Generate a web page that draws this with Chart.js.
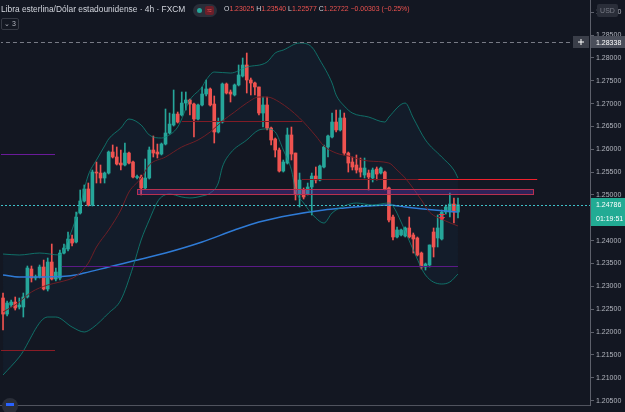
<!DOCTYPE html>
<html lang="es">
<head>
<meta charset="UTF-8">
<title>GBPUSD 4h</title>
<script src="https://cdn.jsdelivr.net/npm/chart.js"></script>
<style>
  body { margin: 0; background: #131722; }
  #wrap { position: relative; width: 625px; height: 412px; overflow: hidden; background: #131722; }
  #chart { position: absolute; left: 0; top: 0; }
  .t { position: absolute; white-space: nowrap; font-family: "Liberation Sans", Arial, sans-serif; color: #d1d4dc; }
  #title { left: 1px; top: 4px; font-size: 8.4px; }
  #ohlc { left: 224px; top: 5px; font-size: 6.9px; }
  .red { color: #ef5350; }
  #pill { position: absolute; left: 193px; top: 4px; width: 24px; height: 13px; border-radius: 7px; background: #2a2e39; }
  #dot { position: absolute; left: 4px; top: 4px; width: 5px; height: 5px; border-radius: 50%; background: #26a69a; }
  #wave { position: absolute; left: 12px; top: 2px; width: 9px; height: 9px; border-radius: 2px; background: #6b1f2a; color: #ef5350; font: 8px Arial, sans-serif; line-height: 9px; text-align: center; }
  #fold { position: absolute; left: 1px; top: 18px; width: 16px; height: 10px; border: 1px solid #363a45; border-radius: 2px; font: 7px Arial, sans-serif; color: #b2b5be; line-height: 10px; text-align: center; }
  #usd { position: absolute; left: 597px; top: 4px; width: 21px; height: 13px; border-radius: 2px; background: #2a2e39; font: 7px Arial, sans-serif; color: #787b86; line-height: 13px; text-align: center; }
</style>
</head>
<body>
<div id="wrap">
  <canvas id="chart" width="625" height="412"></canvas>
  <div class="t" id="title">Libra esterlina/Dólar estadounidense · 4h · FXCM</div>
  <div id="pill"><div id="dot"></div><div id="wave">≈</div></div>
  <div class="t" id="ohlc">O<span class="red">1.23025</span> H<span class="red">1.23540</span> L<span class="red">1.22577</span> C<span class="red">1.22722</span> <span class="red">−0.00303 (−0.25%)</span></div>
  <div id="fold">⌄ 3</div>
  <div id="usd">USD</div>
</div>
<script>
// GBPUSD 4h candles (oldest first)
const open = [1.22746,1.22395,1.22593,1.22658,1.22549,1.22549,1.22768,1.23380,1.23183,1.23205,
  1.23424,1.22943,1.23533,1.23161,1.23183,1.23730,1.23818,1.24037,1.23971,1.24605,
  1.24868,1.25131,1.24781,1.25502,1.25480,1.25371,1.25480,1.25940,1.25831,1.25699,
  1.25656,1.25918,1.25721,1.25382,1.25393,1.25153,1.25371,1.25984,1.25940,1.25896,
  1.26115,1.26356,1.26531,1.26771,1.26750,1.27012,1.27078,1.26990,1.26662,1.26969,
  1.27209,1.27319,1.26990,1.26378,1.26596,1.27428,1.27253,1.27188,1.27407,1.27603,
  1.27844,1.27516,1.27450,1.27363,1.26793,1.26969,1.26465,1.26225,1.25984,1.25524,
  1.25699,1.26313,1.25918,1.25021,1.25109,1.25021,1.25175,1.25415,1.25328,1.25612,
  1.26050,1.26269,1.26596,1.26422,1.26684,1.25918,1.25721,1.25656,1.25590,1.25437,
  1.25480,1.25371,1.25568,1.25480,1.25502,1.25153,1.24518,1.24081,1.24125,1.24103,
  1.24278,1.24125,1.24059,1.23730,1.23424,1.23468,1.24190,1.24059,1.24037,1.24627,
  1.24627,1.24802,1.24627];
const high = [1.22855,1.22680,1.22702,1.22768,1.22746,1.22855,1.23446,1.23446,1.23249,1.23468,
  1.23577,1.23621,1.23927,1.23402,1.23796,1.23927,1.24190,1.24125,1.24627,1.25109,
  1.25219,1.25262,1.25546,1.25721,1.25656,1.25502,1.25962,1.26094,1.26050,1.25984,
  1.26137,1.25940,1.25743,1.25437,1.25437,1.25787,1.26050,1.26291,1.26115,1.26137,
  1.26881,1.26793,1.27297,1.26815,1.27253,1.27253,1.27100,1.27012,1.26990,1.27363,
  1.27516,1.27341,1.27166,1.26684,1.27450,1.27450,1.27297,1.27428,1.27844,1.27997,
  1.28106,1.27559,1.27472,1.27363,1.27144,1.27144,1.26487,1.26247,1.26028,1.25765,
  1.26465,1.26487,1.25918,1.25480,1.25153,1.25262,1.25480,1.25612,1.25656,1.26094,
  1.26313,1.26793,1.26859,1.26859,1.26793,1.25940,1.25831,1.25875,1.25809,1.25809,
  1.25546,1.25590,1.25612,1.25612,1.25524,1.25175,1.24562,1.24300,1.24256,1.24300,
  1.24518,1.24168,1.24081,1.23752,1.23511,1.23906,1.24278,1.24562,1.24671,1.24781,
  1.25043,1.24934,1.24934];
const low = [1.22046,1.22352,1.22549,1.22483,1.22505,1.22330,1.22746,1.23096,1.23140,1.23183,
  1.22921,1.22899,1.23140,1.23118,1.23140,1.23708,1.23774,1.23884,1.23949,1.24583,
  1.24846,1.24759,1.24759,1.25262,1.25262,1.25262,1.25458,1.25809,1.25656,1.25546,
  1.25634,1.25677,1.25371,1.25349,1.25000,1.25131,1.25349,1.25831,1.25809,1.25875,
  1.26094,1.26334,1.26509,1.26574,1.26728,1.26859,1.26750,1.26269,1.26640,1.26947,
  1.27166,1.26947,1.26137,1.26356,1.26574,1.27209,1.27034,1.27166,1.27385,1.27581,
  1.27231,1.27188,1.27188,1.26750,1.26487,1.26422,1.26094,1.25831,1.25502,1.25502,
  1.25677,1.25765,1.24890,1.24737,1.24912,1.25000,1.24562,1.25262,1.25306,1.25590,
  1.25831,1.26247,1.26378,1.26400,1.25875,1.25502,1.25546,1.25480,1.25393,1.25371,
  1.25109,1.25284,1.25328,1.25458,1.25109,1.24408,1.24015,1.24059,1.24103,1.24081,
  1.24059,1.23730,1.23665,1.23380,1.23358,1.23424,1.23643,1.23862,1.24015,1.24583,
  1.24518,1.24386,1.24496];
const close = [1.22395,1.22636,1.22658,1.22527,1.22593,1.22768,1.23402,1.23183,1.23205,1.23424,
  1.22943,1.23533,1.23161,1.23314,1.23730,1.23840,1.24037,1.23949,1.24518,1.24868,
  1.25131,1.24781,1.25502,1.25480,1.25371,1.25480,1.25940,1.25831,1.25677,1.25656,
  1.25918,1.25699,1.25393,1.25404,1.25153,1.25371,1.25984,1.25918,1.25896,1.26115,
  1.26356,1.26552,1.26771,1.26596,1.27012,1.27078,1.26990,1.26662,1.26969,1.27209,
  1.27319,1.26969,1.26378,1.26596,1.27428,1.27231,1.27209,1.27407,1.27625,1.27844,
  1.27516,1.27450,1.27363,1.26793,1.26969,1.26465,1.26203,1.25984,1.25524,1.25721,
  1.26313,1.25896,1.25021,1.25328,1.24956,1.25175,1.25415,1.25328,1.25634,1.26050,
  1.26291,1.26596,1.26422,1.26684,1.25918,1.25699,1.25612,1.25546,1.25502,1.25590,
  1.25393,1.25546,1.25458,1.25590,1.25131,1.24452,1.24081,1.24234,1.24234,1.24278,
  1.24081,1.24037,1.23687,1.23424,1.23489,1.23906,1.23862,1.24278,1.24627,1.24737,
  1.24802,1.24627,1.24786];

// indicator lines as [bar index, price]
const bbUpper = [[0,1.23708],[4,1.23687],[9,1.23730],[14,1.23687],[16,1.24015],[19,1.24781],[21,1.25437],
  [23,1.25765],[25,1.26072],[26,1.26225],[29,1.26465],[31,1.26662],[34,1.26531],[36,1.26313],[39,1.26247],
  [40,1.26269],[43,1.26487],[46,1.27078],[49,1.27363],[50,1.27516],[52,1.27690],[56,1.27668],[60,1.27800],
  [65,1.27909],[67,1.28106],[69,1.28172],[73,1.28325],[76,1.28238],[78,1.27953],[81,1.27450],[82,1.27188],
  [84,1.26947],[86,1.26793],[90,1.26706],[94,1.26596],[95,1.26706],[99,1.27012],[101,1.26684],[104,1.26203],
  [108,1.25831],[111,1.25546],[112,1.25371]];
const bbLower = [[0,1.21061],[4,1.21455],[11,1.22330],[13,1.22330],[17,1.22111],[20,1.22002],[22,1.22089],
  [26,1.22417],[29,1.22702],[32,1.23424],[34,1.24015],[36,1.24452],[38,1.24846],[39,1.24956],[41,1.25021],
  [44,1.24956],[46,1.24934],[49,1.24978],[51,1.25043],[53,1.25262],[54,1.25612],[56,1.25918],[60,1.26203],
  [63,1.26422],[65,1.26444],[67,1.26378],[69,1.25984],[71,1.25546],[72,1.25109],[74,1.24824],[77,1.24496],
  [79,1.24386],[81,1.24605],[84,1.24759],[87,1.24824],[91,1.24781],[95,1.24824],[96,1.24759],[98,1.24408],
  [101,1.23796],[104,1.23249],[108,1.23052],[110,1.23096],[112,1.23270]];
const bbBasis = [[0,1.22439],[4,1.22658],[7,1.22877],[11,1.23031],[14,1.23096],[18,1.23227],[21,1.23511],
  [23,1.23862],[26,1.24234],[29,1.24671],[31,1.25065],[34,1.25371],[36,1.25656],[40,1.25831],[44,1.26050],
  [48,1.26203],[51,1.26378],[54,1.26618],[57,1.26815],[60,1.27012],[63,1.27144],[65,1.27144],[68,1.27034],
  [73,1.26684],[77,1.26291],[79,1.26072],[82,1.25918],[85,1.25853],[90,1.25743],[95,1.25699],[97,1.25546],
  [99,1.25371],[103,1.24890],[105,1.24627],[109,1.24430],[112,1.24322]];
const ma200 = [[0,1.23249],[4,1.23205],[7,1.23205],[16,1.23227],[20,1.23292],[26,1.23424],[32,1.23555],
  [40,1.23730],[49,1.23971],[57,1.24234],[63,1.24408],[71,1.24562],[79,1.24671],[84,1.24715],[90,1.24759],
  [95,1.24781],[99,1.24737],[109,1.24649],[112,1.24627]];

// drawn levels: price, first bar, last bar
const levelPrice = [1.28338, 1.25896, 1.21608, 1.23446, 1.26618, 1.25349, 1.25349];
const levelFrom  = [-1, -1, -1, 14.5, 44, 73.6, 102.2];
const levelTo    = [139.8, 12.8, 12.8, 112, 73.6, 102.2, 131.5];
const zoneTop = 1.25131, zoneBottom = 1.25021, zoneFrom = 33, zoneTo = 130.5;
const lastPrice = 1.24786, countdown = '01:19:51';
const markerBar = 108, markerPrice = 1.24496;

const levelStyle = [
  { color: '#787b86', dash: [4, 3] },
  { color: '#6a1b9a', dash: [] },
  { color: '#8a1c26', dash: [] },
  { color: '#5b1a86', dash: [] },
  { color: '#801c26', dash: [] },
  { color: '#801c26', dash: [] },
  { color: '#f0202c', dash: [] }
];

const SLOTS = 145;
const slotLabels = Array.from({ length: SLOTS }, (_, i) => i);
const upCol = '#26a69a', dnCol = '#ef5350';
const candleCol = close.map((c, i) => c >= open[i] ? upCol : dnCol);
const pts = arr => arr.map(p => ({ x: p[0], y: p[1] }));
const axisFont = '7px "Liberation Sans", Arial, sans-serif';

const drawings = {
  id: 'drawings',
  afterDatasetsDraw(chart) {
    const { ctx, chartArea: a, scales: { x, y } } = chart;
    ctx.save();
    ctx.beginPath();
    ctx.rect(a.left, a.top, a.right - a.left, a.bottom - a.top);
    ctx.clip();
    ctx.lineWidth = 1;

    // zone rectangle
    const x0 = Math.round(x.getPixelForValue(zoneFrom)), x1 = Math.round(x.getPixelForValue(zoneTo));
    const y0 = Math.round(y.getPixelForValue(zoneTop)), y1 = Math.round(y.getPixelForValue(zoneBottom));
    ctx.fillStyle = 'rgba(94, 53, 177, 0.38)';
    ctx.fillRect(x0, y0, x1 - x0, y1 - y0);
    ctx.strokeStyle = '#b8304f';
    ctx.strokeRect(x0 + 0.5, y0 + 0.5, x1 - x0, y1 - y0);

    levelPrice.forEach((p, i) => {
      const yy = Math.round(y.getPixelForValue(p)) + 0.5;
      ctx.strokeStyle = levelStyle[i].color;
      ctx.setLineDash(levelStyle[i].dash);
      ctx.beginPath();
      ctx.moveTo(x.getPixelForValue(levelFrom[i]), yy);
      ctx.lineTo(x.getPixelForValue(levelTo[i]), yy);
      ctx.stroke();
    });

    // last price dotted line
    const ly = Math.round(y.getPixelForValue(lastPrice)) + 0.5;
    ctx.strokeStyle = '#3fc1c9';
    ctx.setLineDash([2, 2]);
    ctx.beginPath();
    ctx.moveTo(a.left, ly);
    ctx.lineTo(a.right, ly);
    ctx.stroke();
    ctx.setLineDash([]);

    // small sell arrow
    const mx = x.getPixelForValue(markerBar), my = y.getPixelForValue(markerPrice);
    ctx.fillStyle = '#f23645';
    ctx.fillRect(mx - 3, my - 4, 6, 1);
    ctx.fillRect(mx - 0.5, my - 4, 1.5, 4);
    ctx.beginPath();
    ctx.moveTo(mx - 3, my - 1);
    ctx.lineTo(mx + 3.5, my - 1);
    ctx.lineTo(mx + 0.25, my + 2.5);
    ctx.closePath();
    ctx.fill();
    ctx.restore();

    // time axis border
    ctx.save();
    ctx.strokeStyle = '#50535e';
    ctx.beginPath();
    ctx.moveTo(0, a.bottom + 0.5);
    ctx.lineTo(a.right, a.bottom + 0.5);
    ctx.stroke();
    ctx.restore();
  },
  afterDraw(chart) {
    const { ctx, chartArea: a, scales: { y } } = chart;
    ctx.save();
    ctx.font = axisFont;
    ctx.textBaseline = 'middle';
    const box = (yc, h, bg, fg, txt) => {
      ctx.fillStyle = bg;
      ctx.fillRect(a.right + 1, Math.round(yc - h / 2), 35, h);
      ctx.fillStyle = fg;
      ctx.fillText(txt, a.right + 6, yc + 0.5);
    };
    const yd = y.getPixelForValue(levelPrice[0]);
    box(yd, 12, '#4a4e5a', '#ffffff', levelPrice[0].toFixed(5));
    ctx.fillStyle = '#3a3e49';
    ctx.fillRect(a.right - 17, Math.round(yd - 6), 16, 12);
    ctx.fillStyle = '#ffffff';
    ctx.fillRect(a.right - 12, Math.round(yd) - 0.5, 6, 1);
    ctx.fillRect(a.right - 9.5, Math.round(yd) - 3, 1, 6);

    const yl = y.getPixelForValue(lastPrice);
    box(yl, 14, '#22ab94', '#ffffff', lastPrice.toFixed(5));
    box(yl + 14, 14, '#22ab94', '#ffffff', countdown);

    // logo badge
    ctx.fillStyle = '#2a2e39';
    ctx.beginPath();
    ctx.arc(10, a.bottom + 1, 8, 0, Math.PI * 2);
    ctx.fill();
    ctx.fillStyle = '#2962ff';
    ctx.fillRect(6, a.bottom - 2, 8, 3);
    ctx.restore();
  }
};

new Chart(document.getElementById('chart'), {
  type: 'bar',
  data: {
    labels: slotLabels,
    datasets: [
      { type: 'line', data: pts(bbUpper), borderColor: 'rgba(16,140,125,0.75)', borderWidth: 1, pointRadius: 0,
        cubicInterpolationMode: 'monotone', fill: '+1', backgroundColor: 'rgba(33,150,243,0.045)', order: 1 },
      { type: 'line', data: pts(bbLower), borderColor: 'rgba(16,140,125,0.75)', borderWidth: 1, pointRadius: 0,
        cubicInterpolationMode: 'monotone', fill: false, order: 1 },
      { type: 'line', data: pts(bbBasis), borderColor: '#6e1f26', borderWidth: 1, pointRadius: 0,
        cubicInterpolationMode: 'monotone', fill: false, order: 1 },
      { type: 'line', data: pts(ma200), borderColor: '#2f7bd6', borderWidth: 1.5, pointRadius: 0,
        cubicInterpolationMode: 'monotone', fill: false, order: 1 },
      { data: low.map((l, i) => [l, high[i]]), backgroundColor: candleCol, barThickness: 1,
        grouped: false, borderWidth: 0, order: 3 },
      { data: open.map((o, i) => [o, close[i]]), backgroundColor: candleCol, barThickness: 3,
        grouped: false, borderWidth: 0, minBarLength: 1, order: 2 }
    ]
  },
  options: {
    responsive: false,
    animation: false,
    layout: { padding: { left: 1, top: 0, right: 0, bottom: 7 } },
    plugins: {
      legend: { display: false },
      tooltip: { enabled: false },
      filler: { drawTime: 'beforeDatasetsDraw' }
    },
    scales: {
      x: { display: false },
      y: {
        position: 'right',
        min: 1.20405,
        max: 1.29266,
        afterFit(scale) { scale.width = 35; scale.paddingTop = 0; scale.paddingBottom = 0; },
        grid: { drawOnChartArea: false, drawTicks: true, tickLength: 4, color: '#5d606b' },
        border: { display: true, color: '#5d606b' },
        ticks: {
          stepSize: 0.005,
          includeBounds: false,
          padding: 2,
          color: '#b2b5be',
          font: { size: 7, family: '"Liberation Sans", Arial, sans-serif' },
          callback: v => v.toFixed(5)
        }
      }
    }
  },
  plugins: [drawings]
});
</script>
</body>
</html>
